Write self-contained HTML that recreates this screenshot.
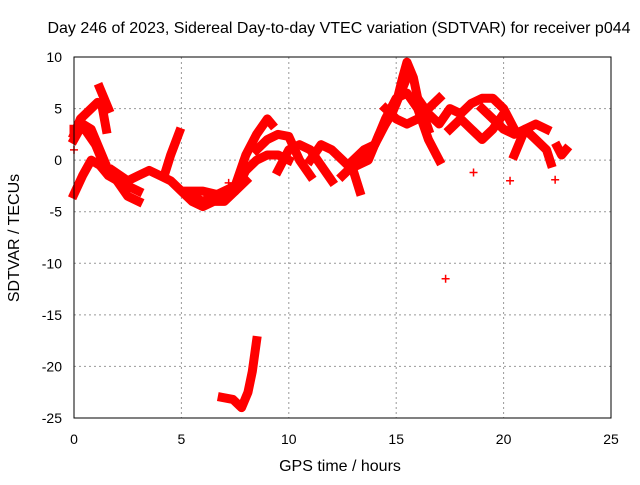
<!DOCTYPE html>
<html><head><meta charset="utf-8"><style>
body{margin:0;background:#fff}
svg text{font-family:"Liberation Sans",sans-serif;font-size:14px;fill:#000}
svg text.big{font-size:16px}
</style></head><body>
<svg id="chart" width="640" height="480">
<rect width="640" height="480" fill="#fff"/>
<text class="big" x="339" y="33" text-anchor="middle">Day 246 of 2023, Sidereal Day-to-day VTEC variation (SDTVAR) for receiver p044</text>
<text class="big" x="340" y="471" text-anchor="middle">GPS time / hours</text>
<text class="big" transform="translate(19,238) rotate(-90)" text-anchor="middle">SDTVAR / TECUs</text>
<g id="grid"></g><g id="ticks"></g><g id="marks"></g>
<rect x="74" y="57" width="537" height="361" fill="none" stroke="#000"/>
</svg>
<script>
const xTicks=[0,5,10,15,20,25];
const yTicks=[10,5,0,-5,-10,-15,-20,-25];
const s1=[[0,2.5],[0.3,4],[0.7,4.8],[1.1,5.6],[1.3,5.3],[1.5,3]];
const s1b=[[1.2,7],[1.4,6],[1.6,5]];
const s2=[[0,2],[0.4,3.5],[0.8,3],[1.2,1],[1.6,-1],[2,-2],[2.5,-2.5],[3,-3]];
const s3=[[0,-3.3],[0.4,-1.5],[0.8,0],[1.2,-0.5],[1.6,-1.5],[2.2,-2.2]];
const s4=[[0,3],[0.5,3],[1,1.5],[1.5,-1],[2,-2],[2.5,-3.5],[3,-4]];
const s5=[[1.8,-1],[2.5,-2],[3,-1.5],[3.5,-1],[4,-1.5],[4.5,-2],[5,-3],[5.5,-4],[6,-4.5],[6.5,-4],[7,-4],[7.5,-3],[8,-2]];
const s6=[[4.2,-1.5],[4.5,0.5],[4.9,2.7]];
const s7=[[5.2,-3],[6,-3],[7,-3.5],[7.5,-3],[8,-1],[8.5,0],[9,0.5],[9.5,0.5],[10,0]];
const s8=[[7.5,-2.5],[8,0.5],[8.5,2.5],[9,4],[9.2,3.5]];
const s9=[[8.5,1],[9,2],[9.5,2.5],[10,2.3],[10.5,0],[11,-1.5]];
const s10=[[9.5,-1],[10,1],[10.5,1.5],[11,1],[11.5,-0.5],[12,-2]];
const s11=[[11,0],[11.5,1.5],[12,1],[12.5,0],[13,-1],[13.3,-3]];
const s12=[[12.5,-1.5],[13,-0.5],[13.5,0.5],[14,1.5],[14.5,3.5],[15,5.5],[15.3,8],[15.5,9.5],[15.8,8],[16,6],[16.5,3]];
const s13=[[13,0],[13.5,1],[14,1.5],[14.5,4],[15,6],[15.5,6.5],[16,5],[16.5,2],[17,0]];
const s14=[[14.5,5],[15,4],[15.5,3.5],[16,4],[16.5,5],[17,6]];
const s15=[[16,6],[16.5,4.5],[17,3.5],[17.5,5],[18,4.5],[18.5,5.5],[19,6],[19.5,6],[20,5],[20.5,3]];
const s16=[[17.5,3],[18,4],[18.5,3],[19,2],[19.5,3],[20,4.5]];
const s17=[[19,5],[19.5,4],[20,3],[20.5,2.5],[21,3],[21.5,3.5],[22,3]];
const s18=[[20.5,0.5],[21,3],[21.5,2],[22,1],[22.2,-0.3]];
const s19=[[22.5,1.3],[22.7,0.5],[22.9,1]];
const s20=[[6.9,-23],[7.4,-23.2],[7.8,-24],[8.1,-22.5],[8.3,-20.5],[8.5,-17.5]];
const s21=[[5.5,-3.5],[6,-4],[6.5,-3.5],[7,-3],[7.5,-2.5]];
const s22=[[13.2,-0.5],[13.7,0],[14.2,2.5],[14.8,4.5],[15.3,7],[15.6,8.5]];
const singles=[[17.3,-11.5],[18.6,-1.2],[20.3,-2],[22.4,-1.9],[0,1],[7.2,-2.2]];
const series=[s1,s1b,s2,s3,s4,s5,s6,s7,s8,s9,s10,s11,s12,s13,s14,s15,s16,s17,s18,s19,s20,s21,s22];
const X=v=>74+v*537/25, Y=v=>57+(10-v)*361/35;
const NS='http://www.w3.org/2000/svg';
const G=document.getElementById('grid'),T=document.getElementById('ticks'),M=document.getElementById('marks');
function mk(tag,a,p){const e=document.createElementNS(NS,tag);for(const k in a)e.setAttribute(k,a[k]);p.appendChild(e);return e;}
xTicks.forEach(t=>{
 if(t>0&&t<25){const l=mk('line',{x1:X(t),x2:X(t),y1:57,y2:418,stroke:'#999','stroke-dasharray':'2,3'},G);
 
 }
 const tx=mk('text',{x:X(t),y:444,'text-anchor':'middle'},T);tx.textContent=t;
 
 
});
yTicks.forEach(t=>{
 if(t<10&&t>-25){const l=mk('line',{x1:74,x2:611,y1:Y(t),y2:Y(t),stroke:'#999','stroke-dasharray':'2,3'},G);
 
 }
 const tx=mk('text',{x:62,y:Y(t)+5,'text-anchor':'end'},T);tx.textContent=t;
 
 
});
function plus(p){const x=X(p[0]),y=Y(p[1]);
 const e=mk('path',{d:`M${x-4},${y}H${x+4}M${x},${y-4}V${y+4}`,stroke:'#f00','stroke-width':1.5},M);
 
 }
series.forEach(s=>{
 const pl=mk('polyline',{points:s.map(p=>X(p[0])+','+Y(p[1])).join(' '),fill:'none',stroke:'#f00','stroke-width':9,'stroke-linejoin':'round','stroke-linecap':'square'},M);
 
 
 s.forEach(plus);
});
singles.forEach(plus);
</script>
</body></html>
